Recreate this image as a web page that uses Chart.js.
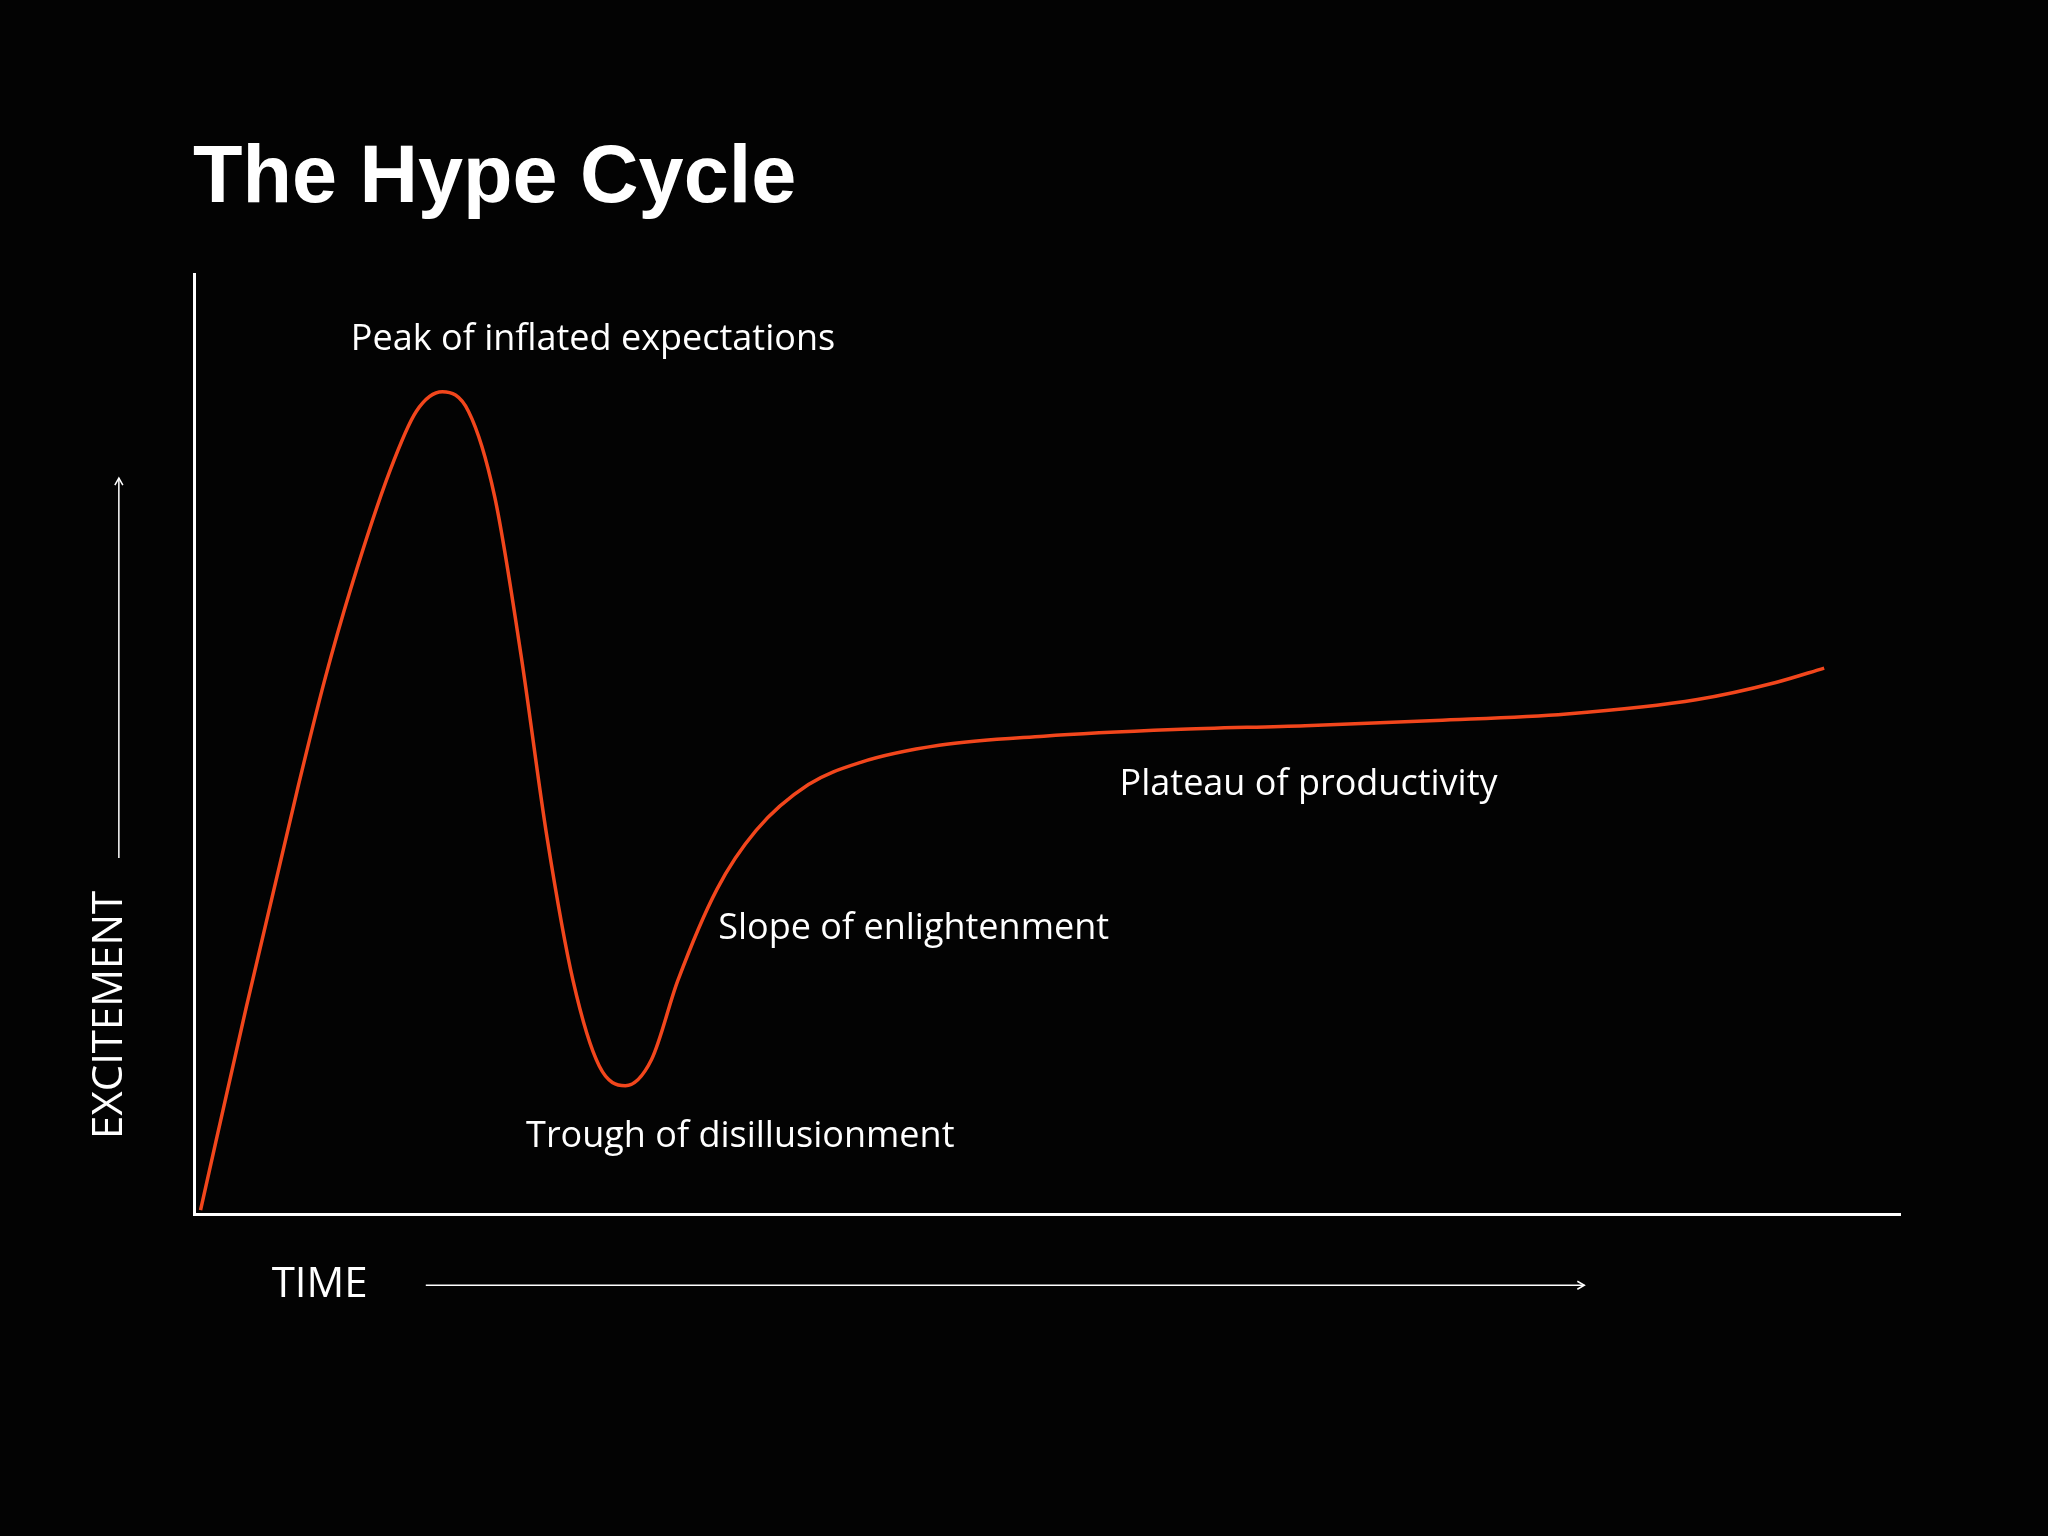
<!DOCTYPE html>
<html><head><meta charset="utf-8">
<script src="https://cdn.jsdelivr.net/npm/chart.js@4"></script>
<style>html,body{margin:0;background:#030303;}#wrap{width:2048px;height:1536px;}</style>
</head><body><div id="wrap"><canvas id="c"></canvas></div>
<script>
const timeX = [155,190,230,250,270,300,320,340,360,380,400,420,440,460,480,500,520,550,580,620,660,720,800,900,1000,1100,1200,1300,1360,1397];
const excitement = [3,158,328,408,478,568,613,628,613,548,428,288,178,113,98,118,178,248,293,328,345,358,365,370,373,377,382,393,406,417];
const phaseLabels = ["Peak of inflated expectations","Slope of enlightenment","Trough of disillusionment","Plateau of productivity"];
const phaseX = [270,551,404,858];
const phaseY = [668,218,59,328];
const S = 2048/1568;

const deco = {
  id:'deco',
  afterDraw(chart){
    const ctx = chart.ctx, xs = chart.scales.x, ys = chart.scales.y;
    ctx.save();
    ctx.fillStyle='#fff'; ctx.textBaseline='middle'; ctx.textAlign='left';
    ctx.font='bold 81px "Liberation Sans", Arial, sans-serif';
    ctx.textBaseline='alphabetic';
    ctx.fillText('The Hype Cycle', 193, 202);
    ctx.textBaseline='middle';
    ctx.font='36px "Open Sans", sans-serif';
    phaseLabels.forEach((t,i)=>ctx.fillText(t, xs.getPixelForValue(phaseX[i]), ys.getPixelForValue(phaseY[i])));
    ctx.font='42px "Open Sans", sans-serif';
    ctx.fillText('TIME', 208*S, 984*S);
    ctx.save(); ctx.translate(84*S, 777*S); ctx.rotate(-Math.PI/2); ctx.textAlign='center';
    ctx.fillText('EXCITEMENT', 0, 0); ctx.restore();
    ctx.strokeStyle='#fff'; ctx.lineWidth=1.5;
    ctx.beginPath(); ctx.moveTo(326*S,984*S); ctx.lineTo(1213*S,984*S); ctx.stroke();
    ctx.beginPath(); ctx.moveTo(1213*S-7,984*S-4); ctx.lineTo(1213*S,984*S); ctx.lineTo(1213*S-7,984*S+4); ctx.stroke();
    ctx.beginPath(); ctx.moveTo(91*S,657*S); ctx.lineTo(91*S,366*S); ctx.stroke();
    ctx.beginPath(); ctx.moveTo(91*S-4,366*S+7); ctx.lineTo(91*S,366*S); ctx.lineTo(91*S+4,366*S+7); ctx.stroke();
    ctx.restore();
  }
};

new Chart(document.getElementById('c'), {
  type:'line',
  data:{datasets:[{data: timeX.map((x,i)=>({x, y: excitement[i]})), borderColor:'#f2461c', borderWidth:3.5,
    pointRadius:0, tension:0.4, cubicInterpolationMode:'monotone', fill:false}]},
  options:{
    responsive:true, maintainAspectRatio:false, animation:false,
    layout:{padding:{left:194,right:148,top:274,bottom:322}},
    plugins:{legend:{display:false},tooltip:{enabled:false}},
    scales:{
      x:{type:'linear', min:150, max:1455, ticks:{display:false}, grid:{display:false, drawTicks:false}, border:{color:'#fff', width:3}},
      y:{min:0, max:718, ticks:{display:false}, grid:{display:false, drawTicks:false}, border:{color:'#fff', width:3}}
    }
  },
  plugins:[deco]
});
</script></body></html>
